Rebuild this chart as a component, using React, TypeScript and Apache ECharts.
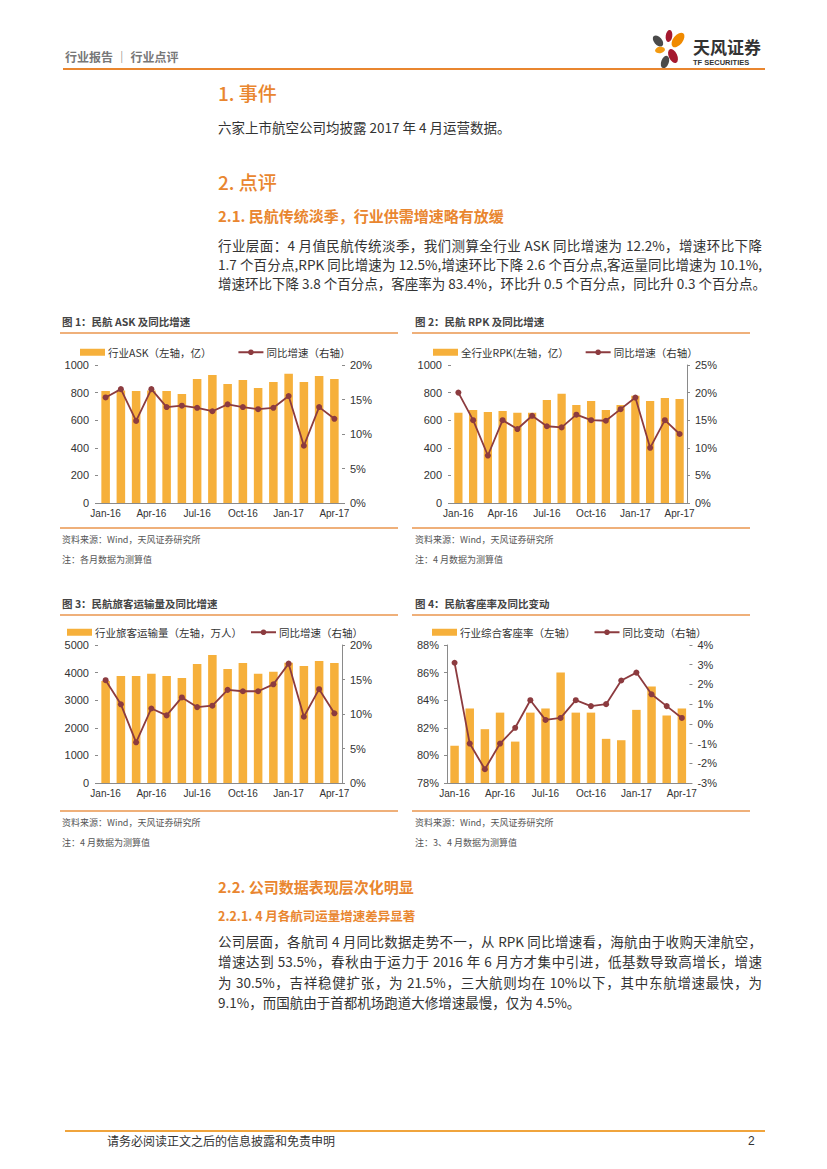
import React, { useEffect, useRef } from "react";
import * as echarts from "echarts";

const months = ["Jan-16","Feb-16","Mar-16","Apr-16","May-16","Jun-16","Jul-16","Aug-16","Sep-16","Oct-16","Nov-16","Dec-16","Jan-17","Feb-17","Mar-17","Apr-17"];

const askValues = [812, 815, 812, 815, 812, 790, 899, 928, 862, 891, 833, 877, 937, 877, 920, 899];
const askGrowth = [15.3, 16.5, 11.9, 16.5, 13.9, 14.1, 13.8, 13.3, 14.3, 13.9, 13.6, 13.8, 15.5, 8.3, 13.9, 12.2];

const rpkValues = [654, 674, 659, 667, 654, 654, 746, 792, 710, 739, 674, 710, 778, 739, 761, 754];
const rpkGrowth = [20.0, 15.0, 8.6, 15.0, 13.4, 15.8, 13.9, 13.7, 16.0, 15.0, 14.9, 17.0, 19.1, 10.0, 15.0, 12.5];

const paxValues = [3700, 3877, 3877, 3961, 3877, 3804, 4312, 4638, 4130, 4348, 3961, 4034, 4360, 4239, 4420, 4348];
const paxGrowth = [14.9, 11.4, 5.9, 10.8, 9.8, 12.4, 11.0, 11.2, 13.5, 13.3, 13.3, 14.3, 17.3, 9.6, 13.6, 10.1];

const loadFactor = [80.7, 83.4, 81.9, 83.1, 81.0, 83.1, 83.4, 86.0, 83.1, 83.1, 81.2, 81.1, 83.3, 85.0, 82.9, 83.4];
const loadChange = [3.1, -1.0, -2.3, -1.0, -0.2, 1.2, 0.2, 0.3, 1.2, 0.9, 1.0, 2.2, 2.6, 1.5, 0.9, 0.3];

const FONT = '"Liberation Sans", "Noto Sans CJK SC", sans-serif';
const CJK = '"Noto Sans CJK SC", "Liberation Sans", sans-serif';
const BAR = "#F6B03B";
const LINE = "#8C3B3F";
const AXIS = "#8a8a8a";
const ORANGE = "#E9862F";

type AxisCfg = { min: number; max: number; interval: number; pct: boolean; line: boolean; margin: number };
type Cfg = {
  barName: string; lineName: string; bars: number[]; line: number[];
  left: AxisCfg; right: AxisCfg;
  grid: { left: number; right: number; top: number; bottom: number };
  legendLeft: number; legendTop: number; legendGap: number;
};

function yAxis(a: AxisCfg) {
  return {
    type: "value",
    min: a.min, max: a.max, interval: a.interval,
    splitLine: { show: false },
    axisLine: { show: a.line, onZero: false, lineStyle: { color: AXIS, width: 1 } },
    axisTick: { show: true, length: 3, lineStyle: { color: AXIS } },
    axisLabel: {
      color: "#333", fontSize: 11, fontFamily: FONT, margin: a.margin,
      formatter: (v: number) => (a.pct ? `${v}%` : `${v}`),
    },
  };
}

function buildOption(c: Cfg) {
  return {
    animation: false,
    textStyle: { fontFamily: FONT },
    legend: {
      left: c.legendLeft, top: c.legendTop, itemGap: c.legendGap,
      padding: 0, width: 500,
      itemWidth: 25, itemHeight: 7,
      textStyle: { fontSize: 10.5, color: "#333", fontFamily: CJK, padding: [0, 0, 0, -2] },
      data: [
        { name: c.barName, icon: "rect" },
        { name: c.lineName },
      ],
    },
    grid: { ...c.grid, containLabel: false },
    xAxis: {
      type: "category",
      data: months,
      axisLine: { onZero: false, lineStyle: { color: AXIS } },
      axisTick: { interval: 2, length: 3, alignWithLabel: false, lineStyle: { color: AXIS } },
      axisLabel: { interval: 2, color: "#333", fontSize: 10, margin: 5, fontFamily: FONT },
    },
    yAxis: [yAxis(c.left), yAxis(c.right)],
    series: [
      { name: c.barName, type: "bar", data: c.bars, barWidth: "56%", itemStyle: { color: BAR }, yAxisIndex: 0 },
      {
        name: c.lineName, type: "line", data: c.line, yAxisIndex: 1, symbol: "circle", symbolSize: 6,
        lineStyle: { color: LINE, width: 1.8 }, itemStyle: { color: LINE }, z: 5,
      },
    ],
  };
}

const chartCfgs: { style: any; cfg: Cfg }[] = [
  {
    style: { left: 60, top: 338, width: 340, height: 188 },
    cfg: {
      barName: "行业ASK（左轴，亿）", lineName: "同比增速（右轴）", bars: askValues, line: askGrowth,
      left: { min: 0, max: 1000, interval: 200, pct: false, line: false, margin: 9 },
      right: { min: 0, max: 20, interval: 5, pct: true, line: false, margin: 8 },
      grid: { left: 38, right: 58, top: 27, bottom: 23 },
      legendLeft: 20, legendTop: 9, legendGap: 26,
    },
  },
  {
    style: { left: 412, top: 338, width: 308, height: 188 },
    cfg: {
      barName: "全行业RPK(左轴，亿）", lineName: "同比增速（右轴）", bars: rpkValues, line: rpkGrowth,
      left: { min: 0, max: 1000, interval: 200, pct: false, line: false, margin: 9 },
      right: { min: 0, max: 25, interval: 5, pct: true, line: true, margin: 8 },
      grid: { left: 39, right: 23, top: 27, bottom: 23 },
      legendLeft: 21, legendTop: 9, legendGap: 16,
    },
  },
  {
    style: { left: 60, top: 618, width: 340, height: 188 },
    cfg: {
      barName: "行业旅客运输量（左轴，万人）", lineName: "同比增速（右轴）", bars: paxValues, line: paxGrowth,
      left: { min: 0, max: 5000, interval: 1000, pct: false, line: false, margin: 9 },
      right: { min: 0, max: 20, interval: 5, pct: true, line: true, margin: 8 },
      grid: { left: 38, right: 58, top: 27, bottom: 23 },
      legendLeft: 7, legendTop: 9, legendGap: 8,
    },
  },
  {
    style: { left: 412, top: 618, width: 308, height: 188 },
    cfg: {
      barName: "行业综合客座率（左轴）", lineName: "同比变动（右轴）", bars: loadFactor, line: loadChange,
      left: { min: 78, max: 88, interval: 2, pct: true, line: true, margin: 8 },
      right: { min: -3, max: 4, interval: 1, pct: true, line: false, margin: 8 },
      grid: { left: 35, right: 23, top: 27, bottom: 23 },
      legendLeft: 20, legendTop: 9, legendGap: 18,
    },
  },
];

function Chart({ cfg, style }: { cfg: Cfg; style: any }) {
  const ref = useRef<HTMLDivElement>(null);
  useEffect(() => {
    const chart = echarts.init(ref.current as HTMLDivElement, null, { renderer: "svg" });
    chart.setOption(buildOption(cfg) as any);
    return () => chart.dispose();
  }, []);
  return <div ref={ref} style={{ position: "absolute", overflow: "hidden", ...style }} />;
}

function Txt(p: { x: number; y: number; size: number; color?: string; weight?: any; family?: string; width?: number; justify?: boolean; children: any }) {
  return (
    <div
      style={{
        position: "absolute", left: p.x, top: p.y - p.size * 0.6, fontSize: p.size, lineHeight: `${p.size * 1.2}px`,
        color: p.color || "#333", fontWeight: p.weight || 400, fontFamily: p.family || CJK, whiteSpace: "nowrap",
        width: p.width, textAlign: p.justify ? "justify" : "left", textAlignLast: p.justify ? "justify" : "auto",
      } as any}
    >
      {p.children}
    </div>
  );
}

function HLine({ x, y, w, h, color }: { x: number; y: number; w: number; h: number; color: string }) {
  return <div style={{ position: "absolute", left: x, top: y - h / 2, width: w, height: h, background: color }} />;
}

const para1 = [
  "行业层面：4 月值民航传统淡季，我们测算全行业 ASK 同比增速为 12.2%，增速环比下降",
  "1.7 个百分点,RPK 同比增速为 12.5%,增速环比下降 2.6 个百分点,客运量同比增速为 10.1%,",
  "增速环比下降 3.8 个百分点，客座率为 83.4%，环比升 0.5 个百分点，同比升 0.3 个百分点。",
];
const para2 = [
  "公司层面，各航司 4 月同比数据走势不一，从 RPK 同比增速看，海航由于收购天津航空，",
  "增速达到 53.5%，春秋由于运力于 2016 年 6 月方才集中引进，低基数导致高增长，增速",
  "为 30.5%，吉祥稳健扩张，为 21.5%，三大航则均在 10%以下，其中东航增速最快，为",
  "9.1%，而国航由于首都机场跑道大修增速最慢，仅为 4.5%。",
];

const captions = [
  { x: 62, y: 322, title: "图 1：民航 ASK 及同比增速", src: 540, note: "注：各月数据为测算值", top: 333, bot: 528, lx: 60 },
  { x: 415, y: 322, title: "图 2：民航 RPK 及同比增速", src: 540, note: "注：4 月数据为测算值", top: 333, bot: 528, lx: 412 },
  { x: 62, y: 604, title: "图 3：民航旅客运输量及同比增速", src: 823, note: "注：4 月数据为测算值", top: 615, bot: 811, lx: 60 },
  { x: 415, y: 604, title: "图 4：民航客座率及同比变动", src: 823, note: "注：3、4 月数据为测算值", top: 615, bot: 811, lx: 412 },
];

function Logo() {
  return (
    <svg style={{ position: "absolute", left: 640, top: 20, width: 60, height: 55 }} viewBox="640 20 60 55">
      <ellipse cx={669} cy={36} rx={3.3} ry={6} fill="#A5192F" transform="rotate(8 669 36)" />
      <ellipse cx={678} cy={40} rx={4.8} ry={8.5} fill="#F08A00" transform="rotate(38 678 40)" />
      <ellipse cx={658} cy={41} rx={4} ry={6.5} fill="#4A4A4A" transform="rotate(-40 658 41)" />
      <ellipse cx={660} cy={50} rx={5} ry={3.2} fill="#F39A10" transform="rotate(-10 660 50)" />
      <ellipse cx={673} cy={56} rx={4.2} ry={7.5} fill="#A5192F" transform="rotate(-25 673 56)" />
      <ellipse cx={665} cy={62} rx={3.8} ry={6.5} fill="#4A4A4A" transform="rotate(20 665 62)" />
    </svg>
  );
}

export default function App() {
  return (
    <div style={{ position: "absolute", left: 0, top: 0, width: 827, height: 1169, background: "#fff", overflow: "hidden" }}>
      <Txt x={65} y={57} size={12} color="#777" weight={700}>行业报告 ｜ 行业点评</Txt>
      <Logo />
      <Txt x={693} y={47} size={17} color="#333" weight={700}>天风证券</Txt>
      <Txt x={693} y={62} size={7.5} color="#333" weight={700} family='"Liberation Sans Narrow", "Liberation Sans", sans-serif'>TF SECURITIES</Txt>
      <HLine x={63} y={69} w={702} h={2} color={ORANGE} />

      <Txt x={218} y={93} size={19} color={ORANGE} weight={500}>1. 事件</Txt>
      <Txt x={218} y={127} size={13.5}>六家上市航空公司均披露 2017 年 4 月运营数据。</Txt>

      <Txt x={218} y={182} size={19} color={ORANGE} weight={500}>2. 点评</Txt>
      <Txt x={218} y={216} size={15} color={ORANGE} weight={700}>2.1. 民航传统淡季，行业供需增速略有放缓</Txt>
      {para1.map((l, i) => (
        <Txt key={i} x={218} y={245 + i * 19} size={13.5} width={544} justify>{l}</Txt>
      ))}

      {captions.map((c, i) => (
        <React.Fragment key={i}>
          <Txt x={c.x} y={c.y} size={10.5} color="#444" weight={700}>{c.title}</Txt>
          <HLine x={c.lx} y={c.top} w={338} h={1.5} color="#EFB07A" />
          <HLine x={c.lx} y={c.bot} w={338} h={1.5} color="#EFB07A" />
          <Txt x={c.x} y={c.src} size={9} color="#555">资料来源：Wind，天风证券研究所</Txt>
          <Txt x={c.x} y={c.src + 20} size={9} color="#555">{c.note}</Txt>
        </React.Fragment>
      ))}

      {chartCfgs.map((c, i) => (
        <Chart key={i} cfg={c.cfg} style={c.style} />
      ))}

      <Txt x={218} y={887} size={15} color={ORANGE} weight={700}>2.2. 公司数据表现层次化明显</Txt>
      <Txt x={218} y={915} size={12.5} color={ORANGE} weight={700}>2.2.1. 4 月各航司运量增速差异显著</Txt>
      {para2.map((l, i) => (
        <Txt key={i} x={218} y={941 + i * 20.5} size={13.5} width={544} justify={i < para2.length - 1}>{l}</Txt>
      ))}

      <HLine x={65} y={1131} w={700} h={2} color="#F0A43C" />
      <Txt x={107} y={1141} size={12} color="#333">请务必阅读正文之后的信息披露和免责申明</Txt>
      <Txt x={748} y={1141} size={12} color="#333" family={FONT}>2</Txt>
    </div>
  );
}
